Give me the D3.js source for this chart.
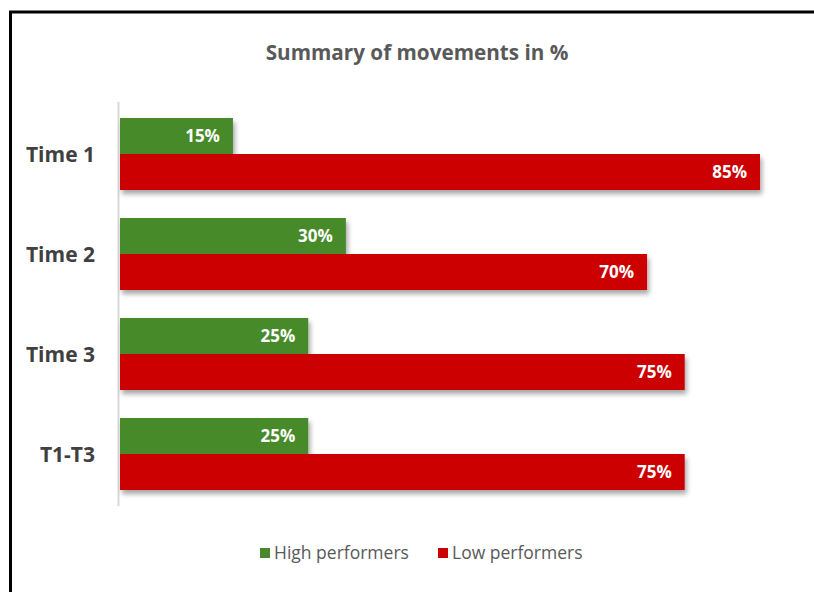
<!DOCTYPE html>
<html>
<head>
<meta charset="utf-8">
<script src="https://cdn.jsdelivr.net/npm/d3@7"></script>
<style>
  html, body { margin: 0; padding: 0; background: #fff; }
  svg { display: block; }
  text { font-family: "Liberation Sans Narrow", "Arial Narrow", "Open Sans", sans-serif; }
</style>
</head>
<body>
<svg id="chart" width="814" height="592"></svg>
<script>
const categories = ["Time 1", "Time 2", "Time 3", "T1-T3"];
const highPerformers = [15, 30, 25, 25];
const lowPerformers = [85, 70, 75, 75];
const seriesNames = ["High performers", "Low performers"];
const seriesColors = ["#468a2c", "#cc0000"];
const titleText = "Summary of movements in %";

const svg = d3.select("#chart");
const W = 814, H = 592;

// frame
svg.append("rect").attr("x", 0).attr("y", 0).attr("width", W).attr("height", H).attr("fill", "#fff");
svg.append("path")
  .attr("d", "M10.5,640 L10.5,12 L900,12")
  .attr("fill", "none").attr("stroke", "#000").attr("stroke-width", 3);

const defs = svg.append("defs");
const f = defs.append("filter").attr("id", "shadow").attr("x", "-5%").attr("y", "-20%").attr("width", "115%").attr("height", "160%");
f.append("feDropShadow").attr("dx", 2).attr("dy", 4).attr("stdDeviation", 2.5)
  .attr("flood-color", "#000").attr("flood-opacity", 0.35);

const x = d3.scaleLinear().domain([0, 85]).range([120, 760]);
const y = d3.scaleBand().domain(categories).range([104, 504]).paddingInner(0.28).paddingOuter(0.14);
const sub = d3.scaleBand().domain(seriesNames).range([0, y.bandwidth()]);

const data = categories.map((c, i) => ({ c, vals: [highPerformers[i], lowPerformers[i]] }));

// axis line
svg.append("line").attr("x1", 118.5).attr("x2", 118.5).attr("y1", 102).attr("y2", 506)
  .attr("stroke", "#d9d9d9").attr("stroke-width", 2);

// bars
const groups = svg.append("g").selectAll("g").data(data).join("g")
  .attr("transform", d => `translate(0,${y(d.c)})`);

groups.selectAll("rect").data(d => d.vals.map((v, j) => ({ v, j })))
  .join("rect")
  .attr("x", x(0))
  .attr("y", d => sub(seriesNames[d.j]))
  .attr("width", d => x(d.v) - x(0))
  .attr("height", sub.bandwidth())
  .attr("fill", d => seriesColors[d.j])
  .attr("filter", "url(#shadow)");

groups.selectAll("text.val").data(d => d.vals.map((v, j) => ({ v, j })))
  .join("text").attr("class", "val")
  .attr("x", d => x(d.v) - 13)
  .attr("y", d => sub(seriesNames[d.j]) + sub.bandwidth() / 2)
  .attr("dy", "0.36em")
  .attr("text-anchor", "end")
  .attr("fill", "#fff")
  .attr("font-weight", "bold")
  .attr("font-size", 17)
  .text(d => d.v + "%");

// category labels
svg.append("g").selectAll("text").data(categories).join("text")
  .attr("x", 95)
  .attr("y", d => y(d) + y.bandwidth() / 2)
  .attr("dy", "0.36em")
  .attr("text-anchor", "end")
  .attr("fill", "#404040")
  .attr("font-weight", "bold")
  .attr("font-size", 21)
  .text(d => d);

// title
svg.append("text").attr("x", 417).attr("y", 53).attr("dy", "0.36em")
  .attr("text-anchor", "middle").attr("fill", "#595959")
  .attr("font-weight", "bold").attr("font-size", 20.7)
  .text(titleText);

// legend
const legendX = [260, 438];
const lg = svg.append("g").selectAll("g").data(seriesNames).join("g")
  .attr("transform", (d, i) => `translate(${legendX[i]},548)`);
lg.append("rect").attr("width", 10).attr("height", 10).attr("fill", (d, i) => seriesColors[i]);
lg.append("text").attr("x", 14).attr("y", 5).attr("dy", "0.36em")
  .attr("fill", "#595959").attr("font-size", 17.5).text(d => d);
</script>
</body>
</html>
